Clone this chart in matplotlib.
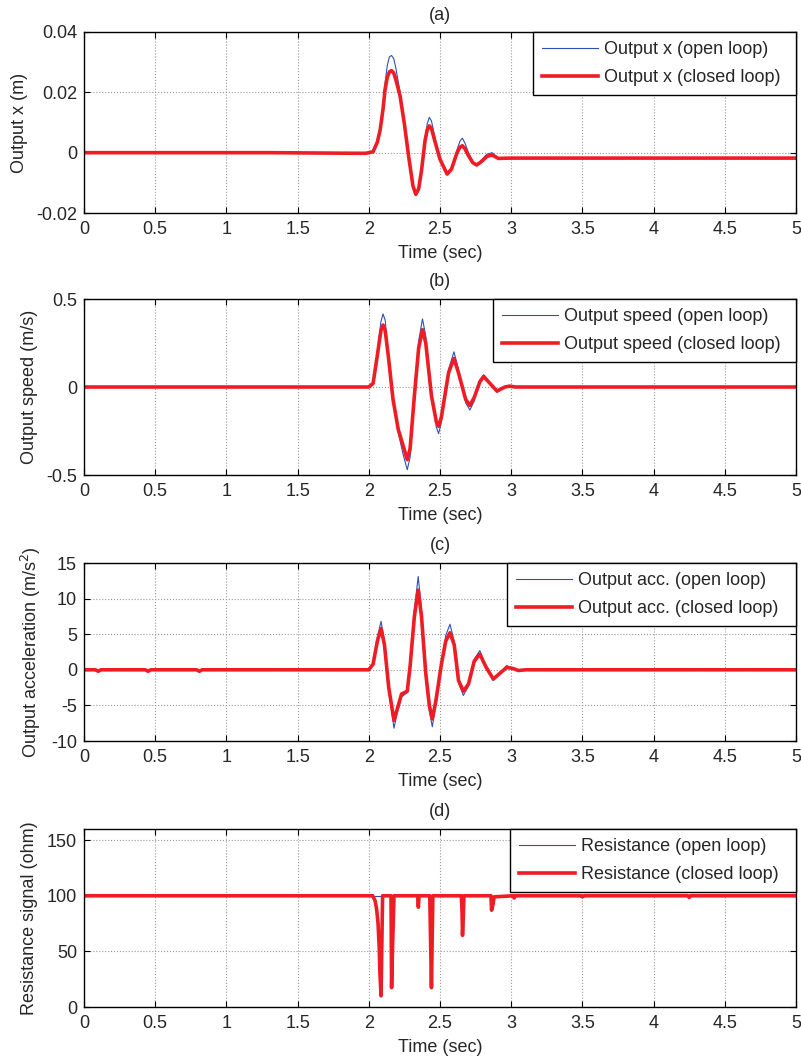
import matplotlib
matplotlib.use("Agg")
import matplotlib.pyplot as plt

plt.rcParams['font.family'] = ['Liberation Sans', 'DejaVu Sans']
plt.rcParams['font.size'] = 13
plt.rcParams['text.color'] = '#262626'
plt.rcParams['axes.labelcolor'] = '#262626'
plt.rcParams['xtick.labelcolor'] = '#262626'
plt.rcParams['ytick.labelcolor'] = '#262626'

# ---- panel (a): output position ----
t_a = [0, 1.3, 1.9, 1.98, 2.03, 2.06, 2.08, 2.1, 2.114, 2.13, 2.145, 2.16, 2.175,
       2.19, 2.22, 2.25, 2.28, 2.31, 2.33, 2.35, 2.37, 2.395, 2.41, 2.425, 2.44,
       2.46, 2.5, 2.55, 2.58, 2.62, 2.64, 2.657, 2.675, 2.7, 2.73, 2.757, 2.79,
       2.83, 2.867, 2.91, 3.0, 5.0]
xa_open = [0, 0, -0.0003, -0.0003, 0.0003, 0.004, 0.0085, 0.016, 0.023, 0.029, 0.0318,
           0.0322, 0.0312, 0.028, 0.020, 0.010, -0.0012, -0.011, -0.0142, -0.0125,
           -0.006, 0.005, 0.0095, 0.0117, 0.0105, 0.006, -0.0022, -0.0072, -0.0055,
           0.001, 0.0038, 0.0048, 0.0032, 0.0, -0.003, -0.0040, -0.0025, -0.0005,
           0.0000, -0.0019, -0.0018, -0.0018]
xa_closed = [0, 0, -0.0002, -0.0002, 0.0003, 0.0035, 0.0076, 0.0145, 0.0209, 0.0250,
             0.0268, 0.0272, 0.0264, 0.0242, 0.0187, 0.0095, -0.0013, -0.011, -0.0138,
             -0.012, -0.006, 0.004, 0.0075, 0.0089, 0.008, 0.0045, -0.0022, -0.0071,
             -0.0055, 0.0, 0.0018, 0.0023, 0.0013, -0.001, -0.0033, -0.0041, -0.0030,
             -0.0012, -0.0008, -0.0019, -0.0018, -0.0018]

# ---- panel (b): output speed ----
t_b = [0, 2.0, 2.03, 2.06, 2.085, 2.1, 2.115, 2.137, 2.17, 2.207, 2.24, 2.27, 2.29,
       2.32, 2.35, 2.377, 2.40, 2.44, 2.475, 2.49, 2.51, 2.56, 2.598, 2.63, 2.68,
       2.71, 2.74, 2.78, 2.807, 2.84, 2.90, 2.956, 2.99, 3.03, 5.0]
vb_open = [0, 0, 0.02, 0.20, 0.37, 0.415, 0.38, 0.19, -0.08, -0.26, -0.38, -0.47,
           -0.40, -0.06, 0.26, 0.387, 0.29, -0.06, -0.23, -0.265, -0.20, 0.10, 0.20,
           0.10, -0.09, -0.131, -0.08, 0.04, 0.07, 0.035, -0.03, 0.0, 0.005, 0.0, 0.0]
vb_closed = [0, 0, 0.02, 0.18, 0.32, 0.352, 0.32, 0.177, -0.07, -0.242, -0.33, -0.413,
             -0.35, -0.05, 0.22, 0.326, 0.25, -0.05, -0.20, -0.223, -0.17, 0.08, 0.162,
             0.08, -0.07, -0.105, -0.06, 0.03, 0.059, 0.03, -0.023, 0.0, 0.005, 0.0, 0.0]

# ---- panel (c): output acceleration ----
t_c = [0, 0.08, 0.1, 0.12, 0.43, 0.45, 0.47, 0.79, 0.81, 0.83, 2.0, 2.03, 2.06, 2.086,
       2.11, 2.14, 2.177, 2.2, 2.23, 2.25, 2.27, 2.29, 2.32, 2.347, 2.37, 2.40, 2.425,
       2.446, 2.47, 2.51, 2.54, 2.57, 2.6, 2.63, 2.664, 2.70, 2.74, 2.78, 2.82,
       2.874, 2.92, 2.968, 3.01, 3.05, 3.1, 5.0]
ac_open = [0, 0, -0.3, 0, 0, -0.3, 0, 0, -0.3, 0, 0, 0.9, 4.6, 6.8, 4.0, -3.0, -8.2,
           -6.0, -3.8, -3.5, -3.2, 0.5, 8.5, 13.1, 8.5, -0.5, -5.8, -8.0, -5.0, 1.0,
           4.8, 6.4, 4.0, -1.8, -3.6, -2.3, 1.5, 2.7, 0.6, -1.5, -0.5, 0.6, 0.2, -0.1,
           0, 0]
ac_closed = [0, 0, -0.2, 0, 0, -0.2, 0, 0, -0.2, 0, 0, 0.79, 4.0, 5.8, 3.5, -2.5, -7.1,
             -5.5, -3.4, -3.2, -3.0, 0.5, 7.5, 11.2, 7.5, -0.5, -5.0, -6.9, -4.5, 0.8,
             4.0, 5.2, 3.5, -1.5, -3.0, -2.0, 1.2, 2.2, 0.5, -1.3, -0.5, 0.33, 0.2,
             -0.1, 0, 0]

# ---- panel (d): resistance signal ----
t_d = [0, 2.027, 2.044, 2.055, 2.065, 2.073, 2.078, 2.086, 2.092, 2.097, 2.156, 2.16,
       2.166, 2.172, 2.177, 2.343, 2.348, 2.353, 2.428, 2.44, 2.445, 2.45, 2.65, 2.655,
       2.658, 2.663, 2.668, 2.858, 2.862, 2.872, 2.88, 3.015, 3.02, 3.03, 3.49, 3.5,
       3.51, 4.24, 4.25, 4.26, 5.0]
rd_open = [100] * len(t_d)
rd_closed = [100, 100, 95.6, 88, 75, 54, 31, 10, 60, 100, 100, 17.4, 50, 77.6, 100,
             100, 89.7, 100, 100, 17.4, 60, 100, 100, 85, 64.4, 80, 100, 100, 87, 92,
             99, 100, 98, 100, 100, 99, 100, 100, 98.5, 100, 100]

xticks = [0, 0.5, 1, 1.5, 2, 2.5, 3, 3.5, 4, 4.5, 5]
xtick_labels = ['0', '0.5', '1', '1.5', '2', '2.5', '3', '3.5', '4', '4.5', '5']

panels = [
    ('(a)', t_a, xa_open, xa_closed, 'Output x (m)', (-0.02, 0.04),
     [-0.02, 0, 0.02, 0.04], ['-0.02', '0', '0.02', '0.04'],
     'Output x (open loop)', 'Output x (closed loop)'),
    ('(b)', t_b, vb_open, vb_closed, 'Output speed (m/s)', (-0.5, 0.5),
     [-0.5, 0, 0.5], ['-0.5', '0', '0.5'],
     'Output speed (open loop)', 'Output speed (closed loop)'),
    ('(c)', t_c, ac_open, ac_closed, 'Output acceleration (m/s$^2$)', (-10, 15),
     [-10, -5, 0, 5, 10, 15], ['-10', '-5', '0', '5', '10', '15'],
     'Output acc. (open loop)', 'Output acc. (closed loop)'),
    ('(d)', t_d, rd_open, rd_closed, 'Resistance signal (ohm)', (0, 160),
     [0, 50, 100, 150], ['0', '50', '100', '150'],
     'Resistance (open loop)', 'Resistance (closed loop)'),
]

# axes boxes in pixels (top, bottom, legend left edge)
boxes = [(32, 213, 533), (299, 475, 493), (563, 741, 507), (829, 1007, 510)]
W, H = 801, 1059
L, R = 84, 796

fig = plt.figure(figsize=(8.01, 10.59), dpi=100)
for (title, t, y_open, y_closed, ylab, ylim, yt, ytl, lab_o, lab_c), (top, bot, lx) in zip(panels, boxes):
    ax = fig.add_axes([L / W, 1 - bot / H, (R - L) / W, (bot - top) / H])
    ax.plot(t, y_open, color='#2f4fb5', lw=0.8, label=lab_o)
    ax.plot(t, y_closed, color='#ee1c25', lw=2.6, label=lab_c)
    ax.set_xlim(0, 5)
    ax.set_ylim(*ylim)
    ax.set_xticks(xticks)
    ax.set_xticklabels(xtick_labels)
    ax.set_yticks(yt)
    ax.set_yticklabels(ytl)
    ax.grid(True, linestyle=':', color='#999999', lw=0.8)
    ax.tick_params(direction='in', top=True, right=True, length=4, width=0.8,
                   labelsize=13, color='black')
    ax.tick_params(axis='x', pad=6)
    ax.tick_params(axis='y', pad=5)
    for s in ax.spines.values():
        s.set_linewidth(1.0)
    ax.set_title(title, fontsize=13, pad=9)
    ax.set_xlabel('Time (sec)', fontsize=13, labelpad=5)
    ax.set_ylabel(ylab, fontsize=13, labelpad=6)
    x0 = (lx - L) / (R - L)
    leg = ax.legend(loc='upper right', bbox_to_anchor=(x0, 0, 1 - x0, 1), mode='expand',
                    borderaxespad=0, fancybox=False, framealpha=1,
                    edgecolor='black', fontsize=13, handlelength=3.1,
                    handletextpad=0.35, labelspacing=0.62, borderpad=0.5)
    leg.get_frame().set_linewidth(1.0)

fig.savefig('out.png', dpi=100)
